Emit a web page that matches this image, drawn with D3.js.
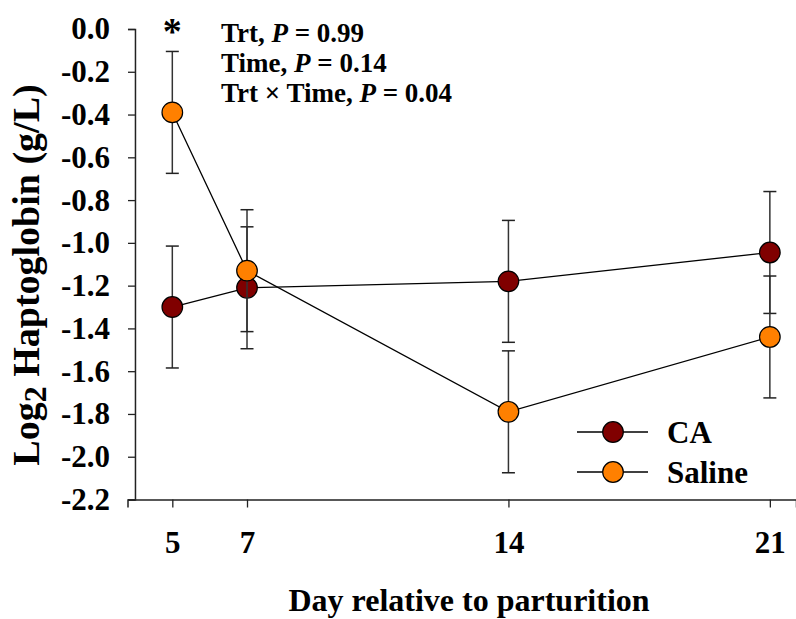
<!DOCTYPE html>
<html>
<head>
<meta charset="utf-8">
<script src="https://cdn.jsdelivr.net/npm/d3@7"></script>
<style>
  html, body { margin: 0; padding: 0; background: #fff; }
  svg { display: block; }
  text { font-family: "Liberation Serif", "Times New Roman", serif; font-weight: bold; fill: #000; }
</style>
</head>
<body>
<svg id="chart" width="796" height="619"></svg>
<script>
// ---- data ----
const days = [5, 7, 14, 21];
const caMean = [-1.30, -1.21, -1.18, -1.045];
const caSE = [0.285, 0.285, 0.285, 0.285];
const salineMean = [-0.39, -1.13, -1.79, -1.44];
const salineSE = [0.285, 0.285, 0.285, 0.285];
const seriesNames = ["CA", "Saline"];
const seriesColors = ["#800000", "#ff8000"];
const yTicks = [0, -0.2, -0.4, -0.6, -0.8, -1.0, -1.2, -1.4, -1.6, -1.8, -2.0, -2.2];
const xTicks = [5, 7, 14, 21];
const statLines = [["Trt, ", "0.99"], ["Time, ", "0.14"], ["Trt \u00d7 Time, ", "0.04"]];
const sigDays = [5];

const svg = d3.select("#chart");
const x = d3.scaleLinear().domain([3.8, 21.7]).range([127.5, 796]);
const y = d3.scaleLinear().domain([-2.2, 0]).range([499.5, 29]);
const yAxisX = x(4);
const fmt = v => d3.format(".1f")(v).replace("\u2212", "-");
const serif = "'Liberation Serif', 'Times New Roman', serif";

// x axis
const gx = svg.append("g").attr("transform", `translate(0,${y(-2.2)})`)
  .call(d3.axisBottom(x).tickValues(xTicks).tickSizeOuter(0).tickSize(8).tickPadding(23).tickFormat(d3.format("d")));
gx.select(".domain").attr("stroke", "#222").attr("stroke-width", 1.5);
gx.selectAll(".tick line").attr("stroke", "#222").attr("stroke-width", 1.3);
gx.selectAll(".tick text").attr("font-size", 31).attr("font-family", null).style("font-family", serif).attr("fill", "#000");

// y axis
const gy = svg.append("g").attr("transform", `translate(${yAxisX},0)`)
  .call(d3.axisLeft(y).tickValues(yTicks).tickSizeOuter(0).tickSize(7).tickPadding(18).tickFormat(fmt));
gy.select(".domain").attr("stroke", "#222").attr("stroke-width", 1.5);
gy.selectAll(".tick line").attr("stroke", "#222").attr("stroke-width", 1.3);
gy.selectAll(".tick text").attr("font-size", 31).attr("font-family", null).style("font-family", serif).attr("fill", "#000");

// axis titles
svg.append("text").attr("x", 469).attr("y", 611).attr("text-anchor", "middle").attr("font-size", 32)
  .text("Day relative to parturition");
const yt = svg.append("text").attr("transform", `translate(39,275) rotate(-90)`).attr("text-anchor", "middle").attr("font-size", 38);
yt.append("tspan").text("Log");
yt.append("tspan").attr("font-size", 32).attr("dy", 7).text("2");
yt.append("tspan").attr("dy", -7).text(" Haptoglobin (g/L)");

// series
const series = [
  { name: seriesNames[0], color: seriesColors[0], mean: caMean, se: caSE },
  { name: seriesNames[1], color: seriesColors[1], mean: salineMean, se: salineSE }
];
const line = d3.line().x(d => x(d.day)).y(d => y(d.v));
const capW = 6.5;
series.forEach(s => {
  const pts = days.map((d, i) => ({ day: d, v: s.mean[i], se: s.se[i] }));
  const g = svg.append("g");
  g.append("path").datum(pts).attr("d", line).attr("fill", "none").attr("stroke", "#000").attr("stroke-width", 1.3);
  const eb = g.selectAll(".eb").data(pts).enter().append("g");
  eb.append("line").attr("x1", d => x(d.day)).attr("x2", d => x(d.day))
    .attr("y1", d => y(d.v + d.se)).attr("y2", d => y(d.v - d.se)).attr("stroke", "#333").attr("stroke-width", 1.5);
  eb.append("line").attr("x1", d => x(d.day) - capW).attr("x2", d => x(d.day) + capW)
    .attr("y1", d => y(d.v + d.se)).attr("y2", d => y(d.v + d.se)).attr("stroke", "#222").attr("stroke-width", 1.5);
  eb.append("line").attr("x1", d => x(d.day) - capW).attr("x2", d => x(d.day) + capW)
    .attr("y1", d => y(d.v - d.se)).attr("y2", d => y(d.v - d.se)).attr("stroke", "#222").attr("stroke-width", 1.5);
  g.selectAll("circle").data(pts).enter().append("circle")
    .attr("cx", d => x(d.day)).attr("cy", d => y(d.v)).attr("r", 10.3)
    .attr("fill", s.color).attr("stroke", "#000").attr("stroke-width", 1.2);
});

// significance marker
svg.selectAll(".sig").data(sigDays).enter().append("text")
  .attr("x", d => x(d)).attr("y", 44).attr("text-anchor", "middle").attr("font-size", 38).text("*");

// stats annotation
statLines.forEach((l, i) => {
  const t = svg.append("text").attr("x", 221).attr("y", 42 + i * 30).attr("font-size", 27);
  t.append("tspan").text(l[0]);
  t.append("tspan").attr("font-style", "italic").text("P");
  t.append("tspan").text(" = " + l[1]);
});

// legend
series.forEach((s, i) => {
  const ly = 432 + i * 40;
  const g = svg.append("g");
  g.append("line").attr("x1", 577).attr("x2", 648).attr("y1", ly).attr("y2", ly).attr("stroke", "#000").attr("stroke-width", 1.3);
  g.append("circle").attr("cx", 613).attr("cy", ly).attr("r", 10.3).attr("fill", s.color).attr("stroke", "#000").attr("stroke-width", 1.2);
  g.append("text").attr("x", 667).attr("y", ly + 11).attr("font-size", 31).text(s.name);
});
</script>
</body>
</html>
